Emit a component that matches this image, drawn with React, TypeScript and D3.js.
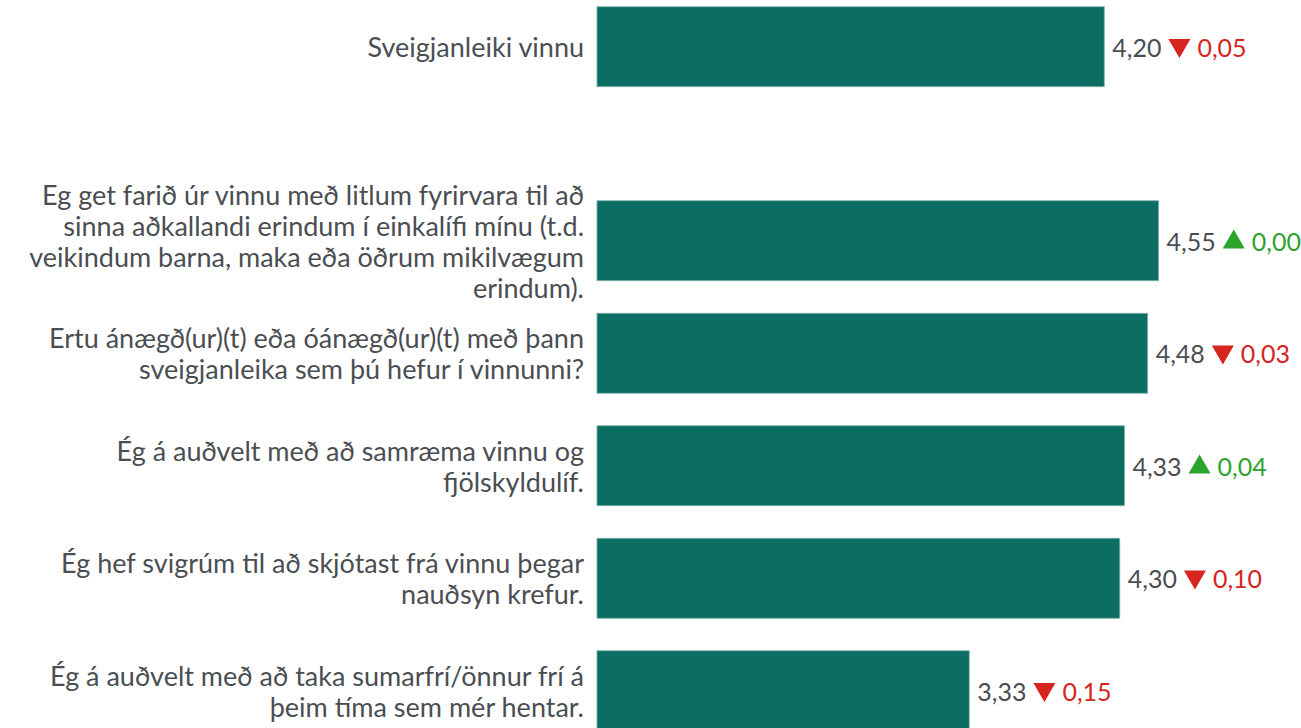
import React from "react";
import * as d3 from "d3";

const W = 1301;
const H = 728;

const summaryLabel = ["Sveigjanleiki vinnu"];
const summaryValue = 4.2;
const summaryDelta = -0.05;

const itemLabels: string[][] = [
  [
    "Eg get farið úr vinnu með litlum fyrirvara til að",
    "sinna aðkallandi erindum í einkalífi mínu (t.d.",
    "veikindum barna, maka eða öðrum mikilvægum",
    "erindum).",
  ],
  ["Ertu ánægð(ur)(t) eða óánægð(ur)(t) með þann", "sveigjanleika sem þú hefur í vinnunni?"],
  ["Ég á auðvelt með að samræma vinnu og", "fjölskyldulíf."],
  ["Ég hef svigrúm til að skjótast frá vinnu þegar", "nauðsyn krefur."],
  ["Ég á auðvelt með að taka sumarfrí/önnur frí á", "þeim tíma sem mér hentar."],
];
const itemValues = [4.55, 4.48, 4.33, 4.3, 3.33];
const itemDeltas = [0.0, -0.03, 0.04, -0.1, -0.15];
const itemUp = [true, false, true, false, false];

const FONT = "Lato, 'Source Sans Pro', sans-serif";
const LABEL_SIZE = 27;
const VALUE_SIZE = 25;
const TEXT_COLOR = "#4a4e53";
const BAR_COLOR = "#0c6e63";
const RED = "#d62420";
const GREEN = "#2ca42c";

const fmt = (v: number) => d3.format(".2f")(v).replace(".", ",");

let ctx: CanvasRenderingContext2D | null = null;
function measure(text: string, size: number) {
  if (!ctx) ctx = document.createElement("canvas").getContext("2d");
  if (!ctx) return text.length * size * 0.5;
  ctx.font = `${size}px Lato`;
  return ctx.measureText(text).width;
}

const PLOT_LEFT = 597;
const x = d3.scaleLinear().domain([0, 5]).range([452.4, 1228.4]);
const yItems = d3
  .scaleBand<number>()
  .domain(d3.range(itemValues.length))
  .range([184.5, 747])
  .paddingInner(0.289)
  .paddingOuter(0.1445);
const bw = yItems.bandwidth();
const summaryTop = (yItems(0) as number) - 194;

const LABEL_X = 584;
const LINE_H = 31;

function Label({ lines, cy }: { lines: string[]; cy: number }) {
  const n = lines.length;
  return (
    <text x={LABEL_X} textAnchor="end" fontFamily={FONT} fontSize={LABEL_SIZE} fill={TEXT_COLOR}>
      {lines.map((l, i) => (
        <tspan key={i} x={LABEL_X} y={cy + (i - (n - 1) / 2) * LINE_H} dominantBaseline="central">
          {l}
        </tspan>
      ))}
    </text>
  );
}

function ValueLabel({ value, delta, up, cy }: { value: number; delta: number; up: boolean; cy: number }) {
  const x0 = x(value) + 8;
  const vText = fmt(value);
  const vw = measure(vText, VALUE_SIZE);
  const triCx = x0 + vw + 7 + 11;
  const col = up ? GREEN : RED;
  const tri = d3.symbol(d3.symbolTriangle, 210)();
  const dText = fmt(Math.abs(delta));
  return (
    <g>
      <text x={x0} y={cy} dominantBaseline="central" fontFamily={FONT} fontSize={VALUE_SIZE} fill={TEXT_COLOR}>
        {vText}
      </text>
      <path
        d={tri as string}
        fill={col}
        transform={`translate(${triCx},${cy + (up ? 1.5 : -1.5)}) rotate(${up ? 0 : 180})`}
      />
      <text x={triCx + 11 + 7} y={cy} dominantBaseline="central" fontFamily={FONT} fontSize={VALUE_SIZE} fill={col}>
        {dText}
      </text>
    </g>
  );
}

export default function App() {
  return (
    <svg width={W} height={H} style={{ position: "absolute", left: 0, top: 0, background: "#fff" }}>
      <rect
        x={PLOT_LEFT}
        y={summaryTop}
        width={x(summaryValue) - PLOT_LEFT}
        height={bw}
        fill={BAR_COLOR}
        stroke="#7db2ab"
        strokeWidth={0.8}
      />
      <Label lines={summaryLabel} cy={summaryTop + bw / 2} />
      <ValueLabel value={summaryValue} delta={summaryDelta} up={false} cy={summaryTop + bw / 2} />
      {itemValues.map((v, i) => {
        const y0 = yItems(i) as number;
        return (
          <g key={i}>
            <rect
              x={PLOT_LEFT}
              y={y0}
              width={x(v) - PLOT_LEFT}
              height={bw}
              fill={BAR_COLOR}
              stroke="#7db2ab"
              strokeWidth={0.8}
            />
            <Label lines={itemLabels[i]} cy={y0 + bw / 2} />
            <ValueLabel value={v} delta={itemDeltas[i]} up={itemUp[i]} cy={y0 + bw / 2} />
          </g>
        );
      })}
    </svg>
  );
}
